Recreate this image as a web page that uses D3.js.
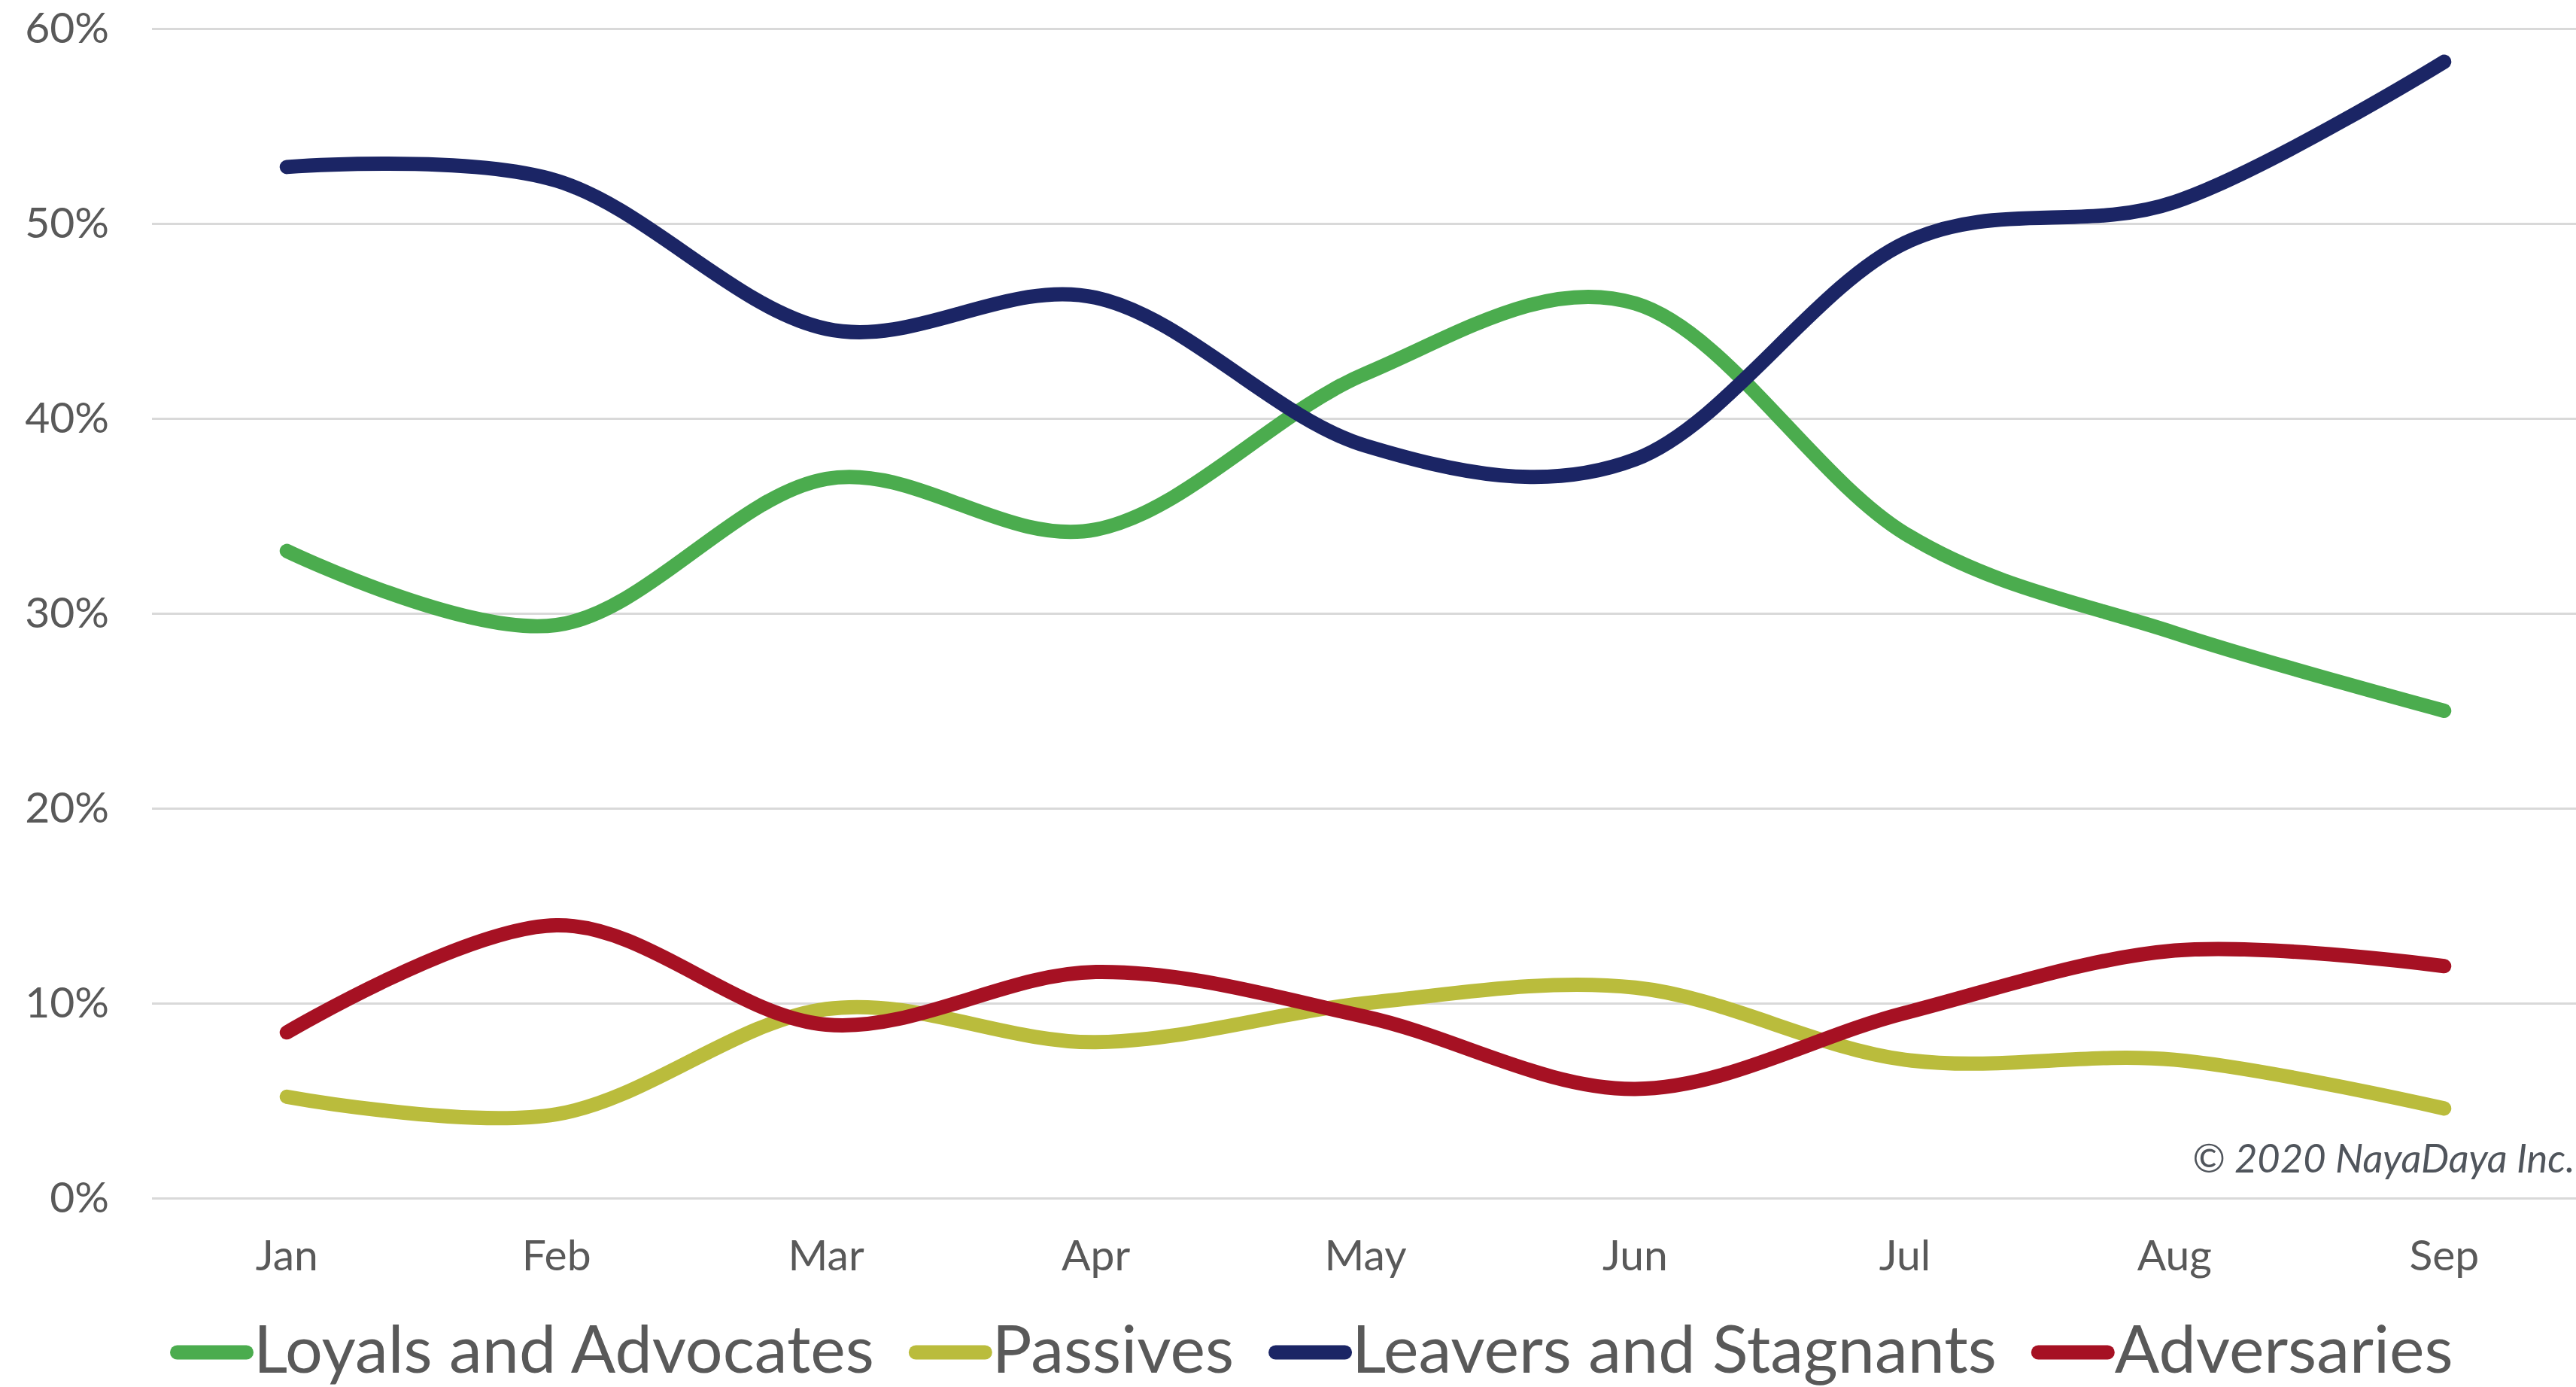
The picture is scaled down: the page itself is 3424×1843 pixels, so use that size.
<!DOCTYPE html>
<html>
<head>
<meta charset="utf-8">
<script src="https://cdn.jsdelivr.net/npm/d3@7"></script>
<style>
  html, body { margin: 0; padding: 0; background: #ffffff; }
  svg { display: block; }
</style>
</head>
<body>
<svg id="chart" width="3424" height="1843"></svg>
<script>
// Monthly segment shares
const months = ["Jan", "Feb", "Mar", "Apr", "May", "Jun", "Jul", "Aug", "Sep"];
const seriesNames = ["Loyals and Advocates", "Passives", "Leavers and Stagnants", "Adversaries"];
const loyals    = [0.332, 0.294, 0.369, 0.343, 0.423, 0.459, 0.341, 0.290, 0.250];
const passives  = [0.052, 0.043, 0.097, 0.080, 0.100, 0.108, 0.071, 0.071, 0.046];
const leavers   = [0.529, 0.522, 0.446, 0.462, 0.386, 0.379, 0.490, 0.511, 0.583];
const adversaries = [0.085, 0.140, 0.089, 0.116, 0.093, 0.056, 0.095, 0.127, 0.119];
const yTicks = [0, 0.1, 0.2, 0.3, 0.4, 0.5, 0.6];
const colors = ["#4bac4e", "#babc3c", "#1b2565", "#a61123"];
const credit = "© 2020 NayaDaya Inc.";

const seriesValues = [loyals, passives, leavers, adversaries];

const W = 3424, H = 1843;
const plot = { left: 202, right: 3428, top: 38, bottom: 1592 };
const font = "Lato, 'Open Sans', sans-serif";
const textColor = "#595959";

const svg = d3.select("#chart");

const x = d3.scaleBand().domain(months).range([plot.left, plot.right]).padding(0);
const xc = m => x(m) + x.bandwidth() / 2;
const y = d3.scaleLinear().domain([0, 0.6]).range([plot.bottom, plot.top]);

// Value axis with horizontal gridlines
const yAxis = d3.axisLeft(y)
  .tickValues(yTicks)
  .tickFormat(d3.format(".0%"))
  .tickSizeInner(-(W - plot.left))
  .tickSizeOuter(0)
  .tickPadding(57);

const gy = svg.append("g")
  .attr("transform", `translate(${plot.left},0)`)
  .call(yAxis);
gy.select(".domain").remove();
gy.selectAll(".tick line").attr("stroke", "#d9d9d9").attr("stroke-width", 3);
gy.selectAll(".tick text")
  .attr("fill", textColor)
  .style("font-family", font)
  .style("font-size", "57px");

// Category axis
const xAxis = d3.axisBottom(x).tickSize(0).tickPadding(56);
const gx = svg.append("g")
  .attr("transform", `translate(0,${plot.bottom})`)
  .call(xAxis);
gx.select(".domain").remove();
gx.selectAll(".tick text")
  .attr("fill", textColor)
  .style("font-family", font)
  .style("font-size", "57px");

// Smoothed series lines
const line = d3.line()
  .x((d, i) => xc(months[i]))
  .y(d => y(d))
  .curve(d3.curveCardinal.tension(0));

svg.append("g")
  .selectAll("path")
  .data(seriesValues)
  .join("path")
  .attr("d", d => line(d))
  .attr("fill", "none")
  .attr("stroke", (d, i) => colors[i])
  .attr("stroke-width", 19)
  .attr("stroke-linecap", "round")
  .attr("stroke-linejoin", "round");

// Credit line
svg.append("text")
  .attr("x", 2914)
  .attr("y", 1558)
  .attr("fill", "#50555c")
  .style("font-family", font)
  .style("font-style", "italic")
  .style("font-size", "52.5px")
  .text(credit);

// Legend
const legend = svg.append("g");
const swatchW = 111, swatchGap = 0, itemGap = 46;
const legendY = 1797, legendBase = 1824;
let lx = 226;
seriesNames.forEach((name, i) => {
  legend.append("line")
    .attr("x1", lx + 9.5).attr("x2", lx + swatchW - 9.5)
    .attr("y1", legendY).attr("y2", legendY)
    .attr("stroke", colors[i])
    .attr("stroke-width", 19)
    .attr("stroke-linecap", "round");
  const t = legend.append("text")
    .attr("x", lx + swatchW + swatchGap)
    .attr("y", legendBase)
    .attr("fill", textColor)
    .style("font-family", font)
    .style("font-size", "88px")
    .text(name);
  const w = t.node().getComputedTextLength();
  lx += swatchW + swatchGap + w + itemGap;
});
</script>
</body>
</html>
